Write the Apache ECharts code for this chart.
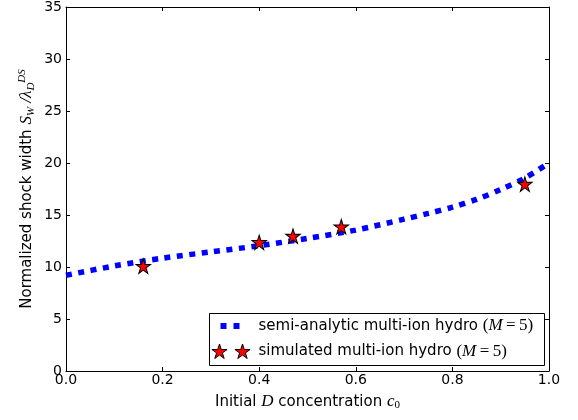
<!DOCTYPE html>
<html>
<head>
<meta charset="utf-8">
<script src="https://cdn.jsdelivr.net/npm/echarts@6/dist/echarts.min.js"></script>
<style>html,body{margin:0;padding:0;background:#fff}#c{width:578px;height:420px}</style>
</head>
<body>
<div id="c"></div>
<script>
// ---- data ----
const curveC = [0.0, 0.1, 0.2, 0.3, 0.4, 0.5, 0.6, 0.7, 0.75, 0.8, 0.85, 0.9, 0.95, 1.0];
const curveW = [9.2, 10.1, 10.85, 11.45, 12.05, 12.75, 13.55, 14.6, 15.15, 15.75, 16.5, 17.45, 18.55, 20.0];
const simC = [0.16, 0.40, 0.47, 0.57, 0.95];
const simW = [10.0, 12.3, 12.9, 13.8, 17.9];
const xTicks = [0.0, 0.2, 0.4, 0.6, 0.8, 1.0];
const yTicks = [0, 5, 10, 15, 20, 25, 30, 35];
const lineName = 'semi-analytic multi-ion hydro (M=5)';
const simName = 'simulated multi-ion hydro (M=5)';

// ---- star path helper ----
function starPts(cx, cy, R) {
  const r = R * 0.381966;
  let s = '';
  for (let k = 0; k < 10; k++) {
    const a = (90 + k * 36) * Math.PI / 180;
    const rad = k % 2 === 0 ? R : r;
    const x = cx + rad * Math.cos(a);
    const y = cy - rad * Math.sin(a);
    s += (k === 0 ? 'M' : 'L') + x.toFixed(3) + ',' + y.toFixed(3);
  }
  return s + 'Z';
}
const starSymbol = 'path://M0,-1M0,1' + starPts(0, 0, 1);
const iconSquares = 'path://M0,0M44,17M11,5.5L17,5.5L17,11.5L11,11.5ZM24,5.5L30,5.5L30,11.5L24,11.5Z';
const iconStars = 'path://M0,0M44,17' + starPts(10, 9, 8) + starPts(33, 9, 8);

const chart = echarts.init(document.getElementById('c'), null, {renderer: 'canvas'});
const black = '#000';
const font = 'DejaVu Sans';
const mathFont = 'Liberation Serif';

function mathify(name) {
  return name.replace('(M=5)', '{p|(}{i|M}{p|\u2009=\u20095)}');
}
function frameAxis(pos) {
  return {
    type: 'value', position: pos,
    axisLine: {show: true, onZero: false, lineStyle: {color: black, width: 1}},
    axisTick: {show: true, inside: true, length: 4, lineStyle: {color: black}},
    splitLine: {show: false}, axisLabel: {show: false}
  };
}

chart.setOption({
  animation: false,
  backgroundColor: '#fff',
  grid: {left: 66, right: 29, top: 7, bottom: 49, show: false},
  xAxis: [{
    type: 'value', min: xTicks[0], max: xTicks[xTicks.length - 1], interval: 0.2,
    position: 'bottom',
    axisLine: {show: true, onZero: false, lineStyle: {color: black, width: 1}},
    axisTick: {show: true, inside: true, length: 4, lineStyle: {color: black}},
    splitLine: {show: false},
    axisLabel: {color: black, fontFamily: font, fontSize: 14, margin: 2,
      formatter: v => v.toFixed(1)},
    name: 'Initial {m|D} concentration {m|c}{sub|0}',
    nameLocation: 'middle', nameGap: 22, nameMoveOverlap: false,
    nameTextStyle: {color: black, fontFamily: font, fontSize: 15, lineHeight: 18,
      rich: {
        m: {fontFamily: mathFont, fontStyle: 'italic', fontSize: 17, color: black, lineHeight: 18},
        sub: {fontFamily: mathFont, fontSize: 11, color: black, lineHeight: 10, verticalAlign: 'bottom'}
      }}
  }, Object.assign(frameAxis('top'), {min: xTicks[0], max: xTicks[xTicks.length - 1], interval: 0.2})],
  yAxis: [{
    type: 'value', min: yTicks[0], max: yTicks[yTicks.length - 1], interval: 5,
    position: 'left',
    axisLine: {show: true, onZero: false, lineStyle: {color: black, width: 1}},
    axisTick: {show: true, inside: true, length: 4, lineStyle: {color: black}},
    splitLine: {show: false},
    axisLabel: {color: black, fontFamily: font, fontSize: 14, margin: 4},
    name: 'Normalized shock width {m|S}{sub|W}{m| /}{m|λ}{sub|D}{sup|DS}',
    nameLocation: 'middle', nameGap: 29, nameMoveOverlap: false,
    nameTextStyle: {color: black, fontFamily: font, fontSize: 15, lineHeight: 20,
      rich: {
        m: {fontFamily: mathFont, fontStyle: 'italic', fontSize: 17, color: black, lineHeight: 20},
        sub: {fontFamily: mathFont, fontStyle: 'italic', fontSize: 11, color: black, lineHeight: 10, verticalAlign: 'bottom'},
        sup: {fontFamily: mathFont, fontStyle: 'italic', fontSize: 11, color: black, lineHeight: 10, verticalAlign: 'top'}
      }}
  }, Object.assign(frameAxis('right'), {min: yTicks[0], max: yTicks[yTicks.length - 1], interval: 5})],
  graphic: [{
    type: 'rect', z: 50,
    shape: {x: 209.5, y: 313.5, width: 335, height: 52},
    style: {fill: '#fff', stroke: black, lineWidth: 1}
  }],
  legend: {
    show: true, z: 60, orient: 'vertical', left: 209, top: 317.5,
    itemWidth: 44, itemHeight: 17, itemGap: 8, padding: 0,
    selectedMode: false,
    formatter: mathify,
    textStyle: {color: black, fontFamily: font, fontSize: 15,
      rich: {
        p: {fontFamily: mathFont, fontSize: 17, color: black},
        i: {fontFamily: mathFont, fontStyle: 'italic', fontSize: 17, color: black}
      }},
    data: [
      {name: lineName, icon: iconSquares, itemStyle: {color: '#0000ff', borderWidth: 0}},
      {name: simName, icon: iconStars, itemStyle: {color: '#ff0000', borderColor: black, borderWidth: 1}}
    ]
  },
  series: [{
    name: lineName, type: 'line', xAxisIndex: 0, yAxisIndex: 0,
    data: curveC.map((c, i) => [c, curveW[i]]),
    smooth: 0.3, showSymbol: false, symbol: 'none',
    lineStyle: {color: '#0000ff', width: 5.5, type: [6, 6.5], cap: 'butt'},
    itemStyle: {color: '#0000ff'},
    z: 2
  }, {
    name: simName, type: 'scatter', xAxisIndex: 0, yAxisIndex: 0,
    data: simC.map((c, i) => [c, simW[i]]),
    symbol: starSymbol, symbolSize: [15.2, 16], symbolKeepAspect: true,
    itemStyle: {color: '#ff0000', borderColor: black, borderWidth: 1, opacity: 1},
    z: 3
  }]
});
</script>
</body>
</html>
